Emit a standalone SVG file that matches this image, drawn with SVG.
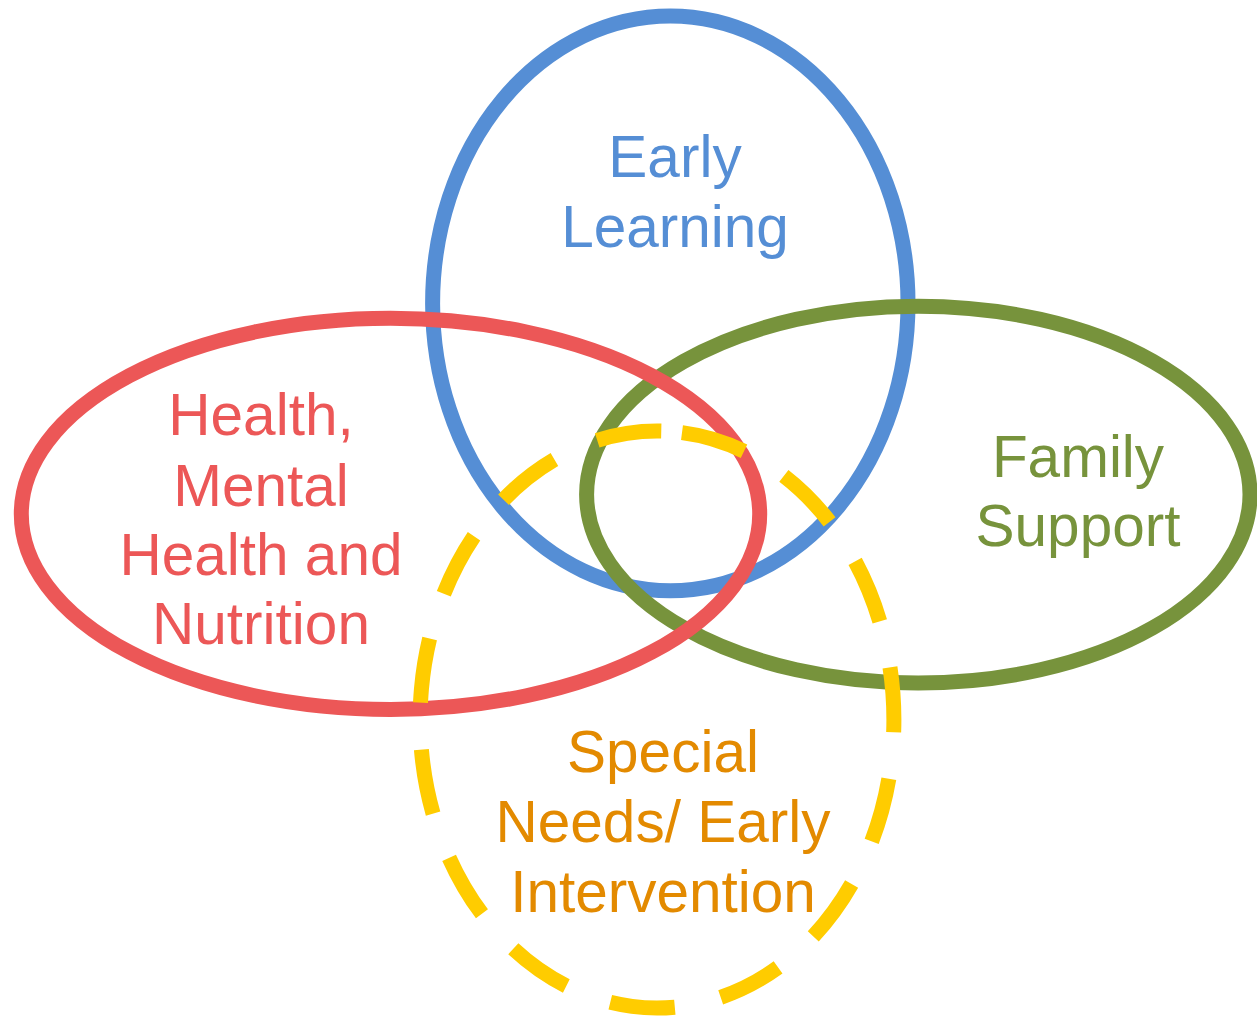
<svg xmlns="http://www.w3.org/2000/svg" width="1257" height="1016" viewBox="0 0 1257 1016">
<style>
.ring{fill:none;stroke-width:15}
.lbl{font-family:"Liberation Sans",Arial,sans-serif;font-size:58.5px;text-anchor:middle}
</style>
<rect width="1257" height="1016" fill="#ffffff"/>
<g id="early-learning">
<ellipse class="ring" cx="670.3" cy="303.4" rx="237.7" ry="287.4" stroke="#558ED5"/>
<text class="lbl" fill="#558ED5" x="675" y="177">Early</text>
<text class="lbl" fill="#558ED5" x="675" y="246.5">Learning</text>
</g>
<g id="family-support">
<ellipse class="ring" cx="918.3" cy="494.6" rx="331.7" ry="188.4" stroke="#77933C"/>
<text class="lbl" fill="#77933C" x="1078" y="477">Family</text>
<text class="lbl" fill="#77933C" x="1078" y="545.5">Support</text>
</g>
<g id="health">
<ellipse class="ring" cx="390.5" cy="513.9" rx="369.2" ry="195.6" stroke="#EC5757"/>
<text class="lbl" fill="#EC5757" x="261" y="435">Health,</text>
<text class="lbl" fill="#EC5757" x="261" y="505.5">Mental</text>
<text class="lbl" fill="#EC5757" x="261" y="575">Health and</text>
<text class="lbl" fill="#EC5757" x="261" y="643.5">Nutrition</text>
</g>
<g id="special-needs">
<path class="ring" stroke="#FFCC00" stroke-dasharray="65 47" d="M 682 432.6 A 237 288.5 0 0 1 632 1006.4 A 237 288.5 0 0 1 682 432.6 Z"/>
<text class="lbl" fill="#E38A00" x="663" y="771.5">Special</text>
<text class="lbl" fill="#E38A00" x="663" y="841.5">Needs/ Early</text>
<text class="lbl" fill="#E38A00" x="663" y="911.5">Intervention</text>
</g>
<g id="connectors"/>
</svg>
